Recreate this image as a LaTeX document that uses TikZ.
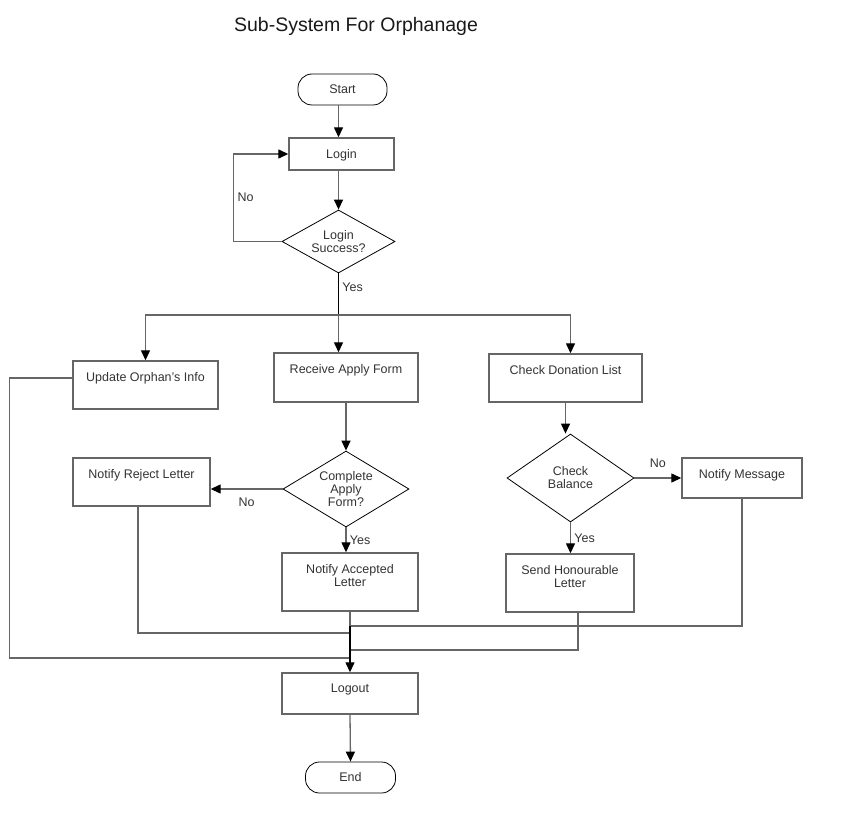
\documentclass[tikz,border=0pt]{standalone}
\usepackage{fontspec}
\setmainfont{Liberation Sans}
\usetikzlibrary{shapes.geometric,arrows.meta}

\begin{document}
\begin{tikzpicture}[x=1pt, y=-1pt,
	font=\fontsize{12.5}{13}\selectfont,
	every node/.style={text=black!80},
	box/.style={draw=black!60, line width=1.4pt, inner sep=0pt},
	boxtext/.style={anchor=north, yshift=-11.5pt, inner sep=0pt, align=center},
	decision/.style={draw, diamond, inner sep=0pt, align=center, line width=0.8pt},
	terminal/.style={draw, rounded corners=14pt, inner sep=0pt, line width=0.8pt},
	line/.style={draw=black!60, line width=1.3pt},
	flow/.style={line, -{Triangle[length=10pt, width=9pt, color=black]}}]

	\useasboundingbox (0,0) rectangle (842,834);

	\node[text=black!90] (title) at (356,26) {\fontsize{19.5}{22}\selectfont Sub-System For Orphanage};

	\node[terminal, minimum width=89pt, minimum height=31pt] (start) at (342.5,89.5) {Start};
	\node[box, minimum width=105pt, minimum height=32pt, label={[boxtext]north:Login}] (login) at (341.5,154) {};
	\node[decision, shape aspect=1.8, minimum width=113pt, minimum height=63pt] (lsd) at (338.5,241.5) {Login\\Success?};

	\coordinate (split) at (338.5,315);

	\node[box, minimum width=145pt, minimum height=48pt, label={[boxtext]north:Update Orphan's Info}] (upd) at (145.5,385) {};
	\node[box, minimum width=144pt, minimum height=49pt, label={[boxtext]north:Receive Apply Form}] (raf) at (346,377.5) {};
	\node[box, minimum width=153pt, minimum height=48pt, label={[boxtext]north:Check Donation List}] (cdl) at (565.5,378) {};

	\node[decision, shape aspect=1.66, minimum width=126pt, minimum height=76pt] (caf) at (346,489) {Complete\\Apply\\Form?};
	\node[box, minimum width=137pt, minimum height=48pt, label={[boxtext]north:Notify Reject Letter}] (nrl) at (141.5,482) {};
	\node[box, minimum width=136pt, minimum height=58pt, label={[boxtext]north:{Notify Accepted\\Letter}}] (nal) at (350,582) {};

	\node[decision, shape aspect=1.44, minimum width=127pt, minimum height=88pt] (cb) at (570.5,478) {Check\\Balance};
	\node[box, minimum width=120pt, minimum height=40pt, label={[boxtext]north:Notify Message}] (nm) at (742,478) {};
	\node[box, minimum width=128pt, minimum height=58pt, label={[boxtext]north:{Send Honourable\\Letter}}] (shl) at (570,583) {};

	\node[box, minimum width=136pt, minimum height=41pt, label={[boxtext]north:Logout}] (logout) at (350,693.5) {};
	\node[terminal, minimum width=90pt, minimum height=31pt] (end) at (350.5,777.5) {End};

	\coordinate (j1) at (350,626);
	\coordinate (j2) at (350,633);
	\coordinate (j3) at (350,650);
	\coordinate (j4) at (350,658);

	% login loop
	\draw[flow] (start.south -| lsd.north) -- (login.north -| lsd.north);
	\draw[flow] (login.south -| lsd.north) -- (lsd.north);
	\draw[flow] (lsd.west) -- ++(-48,0) |- node[pos=0.25, right] {No} (login.west);

	\draw[line, draw=black] (lsd.south) -- node[pos=0.33, right] {Yes} (split);
	\draw[flow] (split) -| (upd.north);
	\draw[flow] (split) -- (split |- raf.north);
	\draw[flow] (split) -| (cb.north |- cdl.north);

	\draw[flow] (raf.south) -- (caf.north);
	\draw[flow] (caf.west) -- node[below=5pt] {No} (caf.west -| nrl.east);
	\draw[flow] (caf.south) -- node[right] {Yes} (caf.south |- nal.north);

	\draw[flow] (cdl.south) -- (cdl.south |- cb.north);
	\draw[flow] (cb.east) -- node[above=6pt] {No} (cb.east -| nm.west);
	\draw[flow] (cb.south) -- node[right] {Yes} (cb.south |- shl.north);

	% everything goes to logout
	\draw[line] (nm.south) |- (j1);
	\draw[line] ([xshift=-3.5pt]nrl.south) |- (j2);
	\draw[line] ([xshift=8pt]shl.south) |- (j3);
	\draw[line] ([yshift=7pt]upd.west) -- ++(-63,0) |- (j4);
	\draw[line] (nal.south) -- (j1);
	\draw[flow, draw=black] (j1) -- (logout.north);

	\draw[flow] (logout.south) -- (end.north);

\end{tikzpicture}
\end{document}
